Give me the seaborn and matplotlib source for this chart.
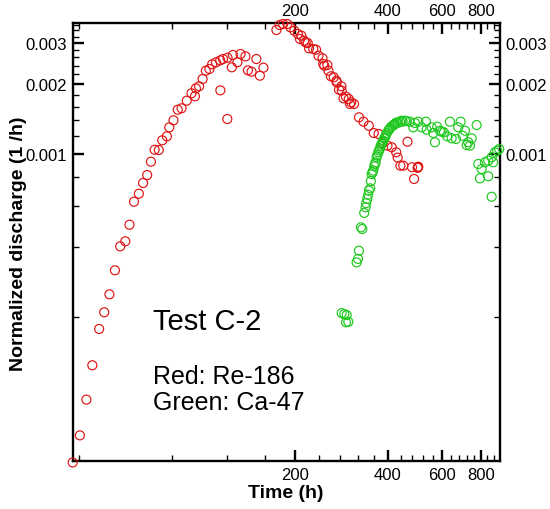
import numpy as np
import pandas as pd
import matplotlib
matplotlib.use("Agg")
import matplotlib.pyplot as plt
from matplotlib.ticker import FixedLocator, FixedFormatter, NullFormatter
import seaborn as sns

# ---------------- data (time in h, discharge in 1e-3 1/h) ----------------
# Re-186 (red), rising limb
re_rise_t = [38.1, 40.2, 42.2, 44.1, 46.4, 48.2, 50.1, 52.2, 54.3, 56.4,
             58.2, 60.2, 62.4, 64.4, 66.4, 68.3, 70.2, 72.4, 74.3, 76.9,
             78.3, 80.8, 83.4, 85.8, 89.2, 92.4, 94.8, 95.5, 97.8, 100.4,
             102.8, 105.6, 107.8, 110.9, 114.5, 116.9, 120.9, 125.8, 133.2, 138.2,
             124.8, 130.1, 140.8, 144.6, 149.9, 153.9, 158.0, 114.6, 120.7]
re_rise_q = [0.0472, 0.0617, 0.0879, 0.1235, 0.1769, 0.2087, 0.2493, 0.3162, 0.401, 0.4213,
             0.4966, 0.6236, 0.675, 0.7506, 0.812, 0.9267, 1.043, 1.040, 1.145, 1.191,
             1.302, 1.396, 1.55, 1.572, 1.695, 1.824, 1.771, 1.916, 1.955, 2.101,
             2.281, 2.320, 2.430, 2.479, 2.528, 2.561, 2.594, 2.665, 2.691, 2.63,
             2.359, 2.479, 2.29, 2.259, 2.561, 2.171, 2.35, 1.878, 1.414]
# Re-186 (red), peak and falling limb
re_fall_t = [174.1, 178.3, 183.0, 188.9, 193.3, 198.9, 204.3, 207.5, 209.7, 214.1,
             216.5, 219.8, 222.0, 229.1, 234.0, 238.3, 245.5, 246.8, 248.8, 254.6,
             256.6, 261.3, 266.9, 272.4, 272.9, 277.6, 282.7, 283.3, 287.1, 292.4,
             298.6, 301.4, 304.1, 310.6, 322.3, 333.3, 346.7, 359.8, 372.9, 384.8,
             398.6, 411.3, 425.4, 430.0, 438.9, 448.3, 462.7, 478.6, 486.0, 499.0,
             500.4, 501.5]
re_fall_q = [3.413, 3.586, 3.622, 3.622, 3.505, 3.389, 3.281, 3.122, 3.226, 3.07,
             3.021, 3.0, 2.847, 2.828, 2.808, 2.647, 2.579, 2.437, 2.397, 2.413,
             2.281, 2.158, 2.137, 2.066, 2.034, 1.889, 1.955, 1.872, 1.736, 1.763,
             1.724, 1.641, 1.669, 1.641, 1.438, 1.377, 1.323, 1.231, 1.219, 1.115,
             1.086, 1.069, 1.017, 0.965, 0.891, 0.891, 1.129, 0.877, 0.781, 0.872,
             0.877, 0.882]
# Ca-47 (green), rising limb
ca_rise_t = [283.3, 288.9, 294.0, 297.6, 292.5, 316.6, 319.9, 322.1, 327.0, 330.3,
             335.1, 338.6, 342.7, 347.1, 350.5, 354.1, 358.4, 361.1, 364.9, 367.6,
             372.0, 376.8, 381.6, 386.2, 391.1, 396.1, 400.9, 406.0, 414.3, 421.4,
             430.0, 437.4, 446.3, 454.0,
             340.0, 345.0, 352.0, 356.5, 363.0, 369.5, 374.5, 379.0, 384.0, 389.0,
             394.0, 403.5, 410.0, 418.0, 425.0, 442.0, 460.0]
ca_rise_q = [0.207, 0.205, 0.203, 0.190, 0.189, 0.342, 0.354, 0.384, 0.484, 0.476,
             0.558, 0.590, 0.641, 0.696, 0.712, 0.820, 0.848, 0.885, 0.921, 0.968,
             1.017, 1.058, 1.104, 1.141, 1.180, 1.227, 1.259, 1.290, 1.323, 1.346,
             1.359, 1.377, 1.377, 1.391,
             0.615, 0.668, 0.765, 0.835, 0.905, 0.990, 1.035, 1.085, 1.125, 1.165,
             1.205, 1.275, 1.310, 1.335, 1.365, 1.390, 1.385]
# Ca-47 (green), plateau and tail
ca_flat_t = [471.2, 489.1, 501.3, 483.0, 514.1, 530.8, 533.6, 554.0, 560.6, 577.6,
             589.4, 567.8, 596.9, 607.2, 622.3, 635.0, 643.1, 664.1, 687.8, 675.6,
             698.2, 710.3, 727.9, 737.2, 746.6, 719.4, 775.0, 784.3, 804.5, 794.4,
             824.5, 845.0, 845.0, 866.7, 877.0, 888.2, 903.6, 917.2, 866.7]
ca_flat_q = [1.377, 1.359, 1.377, 1.302, 1.302, 1.377, 1.272, 1.302, 1.231, 1.310,
             1.259, 1.123, 1.247, 1.240, 1.191, 1.377, 1.168, 1.160, 1.377, 1.302,
             1.198, 1.259, 1.123, 1.086, 1.168, 1.093, 1.332, 0.906, 0.862, 0.786,
             0.921, 0.936, 0.802, 0.968, 0.921, 1.017, 1.033, 1.051, 0.655]

x_major = [200, 400, 600, 800]
x_major_labels = ["200", "400", "600", "800"]
x_minor = [40, 80, 120, 160, 240, 280, 320, 360, 440, 480, 520, 560,
           640, 680, 720, 760, 840, 880]
y_major = [0.001, 0.002, 0.003]
y_major_labels = ["0.001", "0.002", "0.003"]
y_minor = [0.0002, 0.0004, 0.0006, 0.0008, 0.0012, 0.0014, 0.0016, 0.0018,
           0.0022, 0.0024, 0.0026, 0.0028, 0.0032, 0.0034, 0.0036]

title_text = "Test C-2"
legend_lines = ["Red: Re-186", "Green: Ca-47"]
x_label = "Time (h)"
y_label = "Normalized discharge (1 /h)"

RED = "#e01414"
GREEN = "#1ec81e"

# ---------------- plotting ----------------
sns.set_theme(style="white")
plt.rcParams["font.family"] = ["Liberation Sans", "DejaVu Sans"]
plt.rcParams["text.color"] = "black"
plt.rcParams["axes.labelcolor"] = "black"
plt.rcParams["xtick.color"] = "black"
plt.rcParams["ytick.color"] = "black"

df_re = pd.DataFrame({"t": re_rise_t + re_fall_t,
                      "q": np.array(re_rise_q + re_fall_q) * 1e-3})
df_ca = pd.DataFrame({"t": ca_rise_t + ca_flat_t,
                      "q": np.array(ca_rise_q + ca_flat_q) * 1e-3})

fig = plt.figure(figsize=(5.5, 5.1), dpi=100)
ax = fig.add_axes([72.7 / 550, 1 - 462.3 / 510, (499.5 - 72.7) / 550, (462.3 - 24.3) / 510])
ax.set_xscale("log")
ax.set_yscale("log")

for df, col in ((df_re, RED), (df_ca, GREEN)):
    sns.scatterplot(data=df, x="t", y="q", ax=ax, marker="o", s=42,
                    facecolor="none", edgecolor=col, linewidth=0.85,
                    clip_on=False, legend=False, zorder=3)

ax.set_xlim(38.1, 919)
ax.set_ylim(4.773e-5, 3.647e-3)

ax.xaxis.set_major_locator(FixedLocator(x_major))
ax.xaxis.set_major_formatter(FixedFormatter(x_major_labels))
ax.xaxis.set_minor_locator(FixedLocator(x_minor))
ax.xaxis.set_minor_formatter(NullFormatter())
ax.yaxis.set_major_locator(FixedLocator(y_major))
ax.yaxis.set_major_formatter(FixedFormatter(y_major_labels))
ax.yaxis.set_minor_locator(FixedLocator(y_minor))
ax.yaxis.set_minor_formatter(NullFormatter())

ax.tick_params(which="both", direction="in", top=True, right=True,
               labeltop=True, labelright=True, bottom=True, left=True,
               labelsize=12, pad=4, colors="black", labelcolor="black")
ax.tick_params(which="major", length=8, width=1.7)
ax.tick_params(which="minor", length=4.5, width=1.0)
for sp in ax.spines.values():
    sp.set_linewidth(1.7)
    sp.set_color("black")
ax.grid(False)

ax.set_xlabel(x_label, fontsize=14, fontweight="bold", color="black")
ax.xaxis.set_label_coords(0.5, -0.052)
ax.set_ylabel(y_label, fontsize=14, fontweight="bold", color="black")
ax.yaxis.set_label_coords(-0.107, 0.5)

ax.text(0.1874, 0.302, title_text, transform=ax.transAxes, fontsize=21,
        ha="left", va="baseline", color="black")
ax.text(0.1874, 0.1788, legend_lines[0], transform=ax.transAxes, fontsize=18,
        ha="left", va="baseline", color="black")
ax.text(0.1874, 0.1194, legend_lines[1], transform=ax.transAxes, fontsize=18,
        ha="left", va="baseline", color="black")

fig.savefig("out.png", dpi=100)
